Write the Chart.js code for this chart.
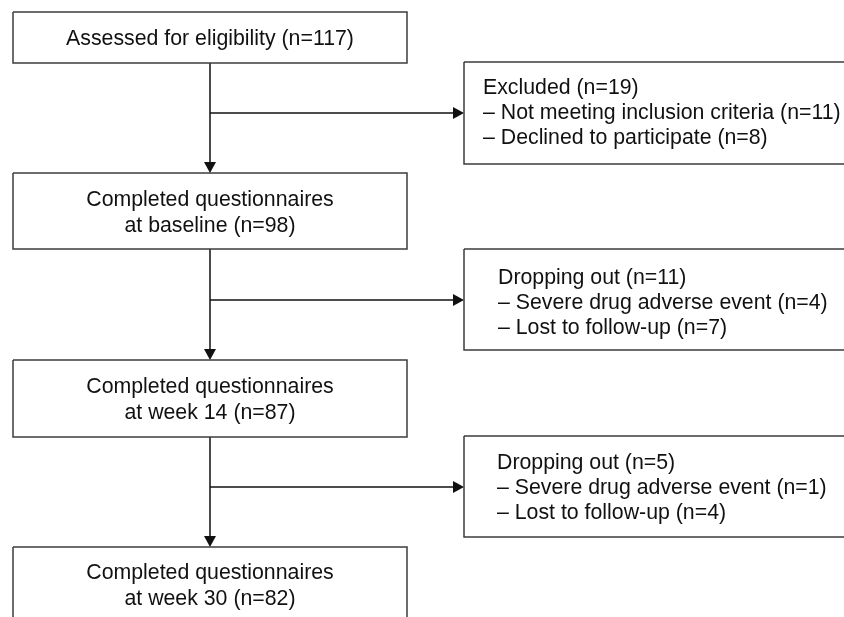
<!DOCTYPE html>
<html>
<head>
<meta charset="utf-8">
<title>Participant flow</title>
<script src="https://cdn.jsdelivr.net/npm/chart.js@4.4.1/dist/chart.umd.min.js"></script>
<style>
  html, body { margin: 0; padding: 0; background: #fff; }
  #wrap { width: 844px; height: 617px; position: relative; }
</style>
</head>
<body>
<div id="wrap"><canvas id="flowChart"></canvas></div>
<script>
// stages of the study (main column)
var stageNames = ['Assessed for eligibility', 'Completed questionnaires\nat baseline', 'Completed questionnaires\nat week 14', 'Completed questionnaires\nat week 30'];
var stageCounts = [117, 98, 87, 82];

// people lost between stages (side boxes)
var lossTitles = ['Excluded', 'Dropping out', 'Dropping out'];
var lossCounts = [19, 11, 5];
var lossReasons = [
  ['Not meeting inclusion criteria', 'Declined to participate'],
  ['Severe drug adverse event', 'Lost to follow-up'],
  ['Severe drug adverse event', 'Lost to follow-up']
];
var lossReasonCounts = [[11, 8], [4, 7], [1, 4]];

// layout (in page pixels, mapped through the x / y scales)
var W = 844, H = 617;
var colX = 210, colLeft = 13, colRight = 407;
var stageTop = [12, 173, 360, 547];
var stageBottom = [63, 249, 437, 624];
var stageTextY = [39, 200, 387, 573];
var sideLeft = 464, sideRight = 860;
var sideTop = [62, 249, 436];
var sideBottom = [164, 350, 537];
var sideArrowY = [113, 300, 487];
var sideTextX = [483, 498, 497];
var sideTextY = [88, 278, 463];
var stageLineGap = 26, sideLineGap = 25;

var FONT = '"Liberation Sans", Arial, Helvetica, sans-serif';

function rectPoints(l, t, r, b) {
  return [{x: l, y: t}, {x: r, y: t}, {x: r, y: b}, {x: l, y: b}, {x: l, y: t}];
}

// arrowheads as point images
function arrowImg(dir) {
  var c = document.createElement('canvas');
  var len = 11, half = 6;
  c.width = dir == 'down' ? half * 2 : len;
  c.height = dir == 'down' ? len : half * 2;
  var g = c.getContext('2d');
  g.fillStyle = '#111';
  g.beginPath();
  if (dir == 'down') {
    g.moveTo(0, 0); g.lineTo(half * 2, 0); g.lineTo(half, len);
  } else {
    g.moveTo(0, 0); g.lineTo(0, half * 2); g.lineTo(len, half);
  }
  g.closePath();
  g.fill();
  return c;
}
var downArrow = arrowImg('down');
var rightArrow = arrowImg('right');

var datasets = [];

// boxes
for (var i = 0; i < stageNames.length; i++) {
  datasets.push({
    data: rectPoints(colLeft, stageTop[i], colRight, stageBottom[i]),
    showLine: true, borderColor: '#3c3c3c', borderWidth: 1.5, pointRadius: 0, fill: false
  });
}
for (var i = 0; i < lossTitles.length; i++) {
  datasets.push({
    data: rectPoints(sideLeft, sideTop[i], sideRight, sideBottom[i]),
    showLine: true, borderColor: '#3c3c3c', borderWidth: 1.5, pointRadius: 0, fill: false
  });
}

// connectors
for (var i = 0; i < lossTitles.length; i++) {
  datasets.push({
    data: [{x: colX, y: stageBottom[i]}, {x: colX, y: stageTop[i + 1] - 9}],
    showLine: true, borderColor: '#111', borderWidth: 1.5, pointRadius: 0
  });
  datasets.push({
    data: [{x: colX, y: sideArrowY[i]}, {x: sideLeft - 9, y: sideArrowY[i]}],
    showLine: true, borderColor: '#111', borderWidth: 1.5, pointRadius: 0
  });
  datasets.push({
    data: [{x: colX, y: stageTop[i + 1] - 5.5}],
    pointStyle: downArrow, pointRadius: 6
  });
  datasets.push({
    data: [{x: sideLeft - 5.5, y: sideArrowY[i]}],
    pointStyle: rightArrow, pointRadius: 6
  });
}

// box texts
var flowText = {
  id: 'flowText',
  afterDatasetsDraw: function(chart) {
    var ctx = chart.ctx;
    var xs = chart.scales.x, ys = chart.scales.y;
    ctx.save();
    ctx.font = '21.3px ' + FONT;
    ctx.fillStyle = '#111';
    ctx.textBaseline = 'middle';

    ctx.textAlign = 'center';
    for (var i = 0; i < stageNames.length; i++) {
      var lines = (stageNames[i] + ' (n=' + stageCounts[i] + ')').split('\n');
      for (var j = 0; j < lines.length; j++) {
        ctx.fillText(lines[j], xs.getPixelForValue(colX), ys.getPixelForValue(stageTextY[i] + j * stageLineGap));
      }
    }

    ctx.textAlign = 'left';
    for (var i = 0; i < lossTitles.length; i++) {
      var lines = [lossTitles[i] + ' (n=' + lossCounts[i] + ')'];
      for (var k = 0; k < lossReasons[i].length; k++) {
        lines.push('\u2013 ' + lossReasons[i][k] + ' (n=' + lossReasonCounts[i][k] + ')');
      }
      for (var j = 0; j < lines.length; j++) {
        ctx.fillText(lines[j], xs.getPixelForValue(sideTextX[i]), ys.getPixelForValue(sideTextY[i] + j * sideLineGap));
      }
    }
    ctx.restore();
  }
};

var flowChart = new Chart(document.getElementById('flowChart').getContext('2d'), {
  type: 'scatter',
  data: { datasets: datasets },
  options: {
    responsive: true,
    maintainAspectRatio: false,
    animation: false,
    layout: { padding: 0, autoPadding: false },
    elements: { line: { tension: 0 } },
    scales: {
      x: { type: 'linear', min: 0, max: W, display: false },
      y: { type: 'linear', min: 0, max: H, reverse: true, display: false }
    },
    plugins: {
      legend: { display: false },
      tooltip: { enabled: false }
    }
  },
  plugins: [flowText]
});
</script>
</body>
</html>
